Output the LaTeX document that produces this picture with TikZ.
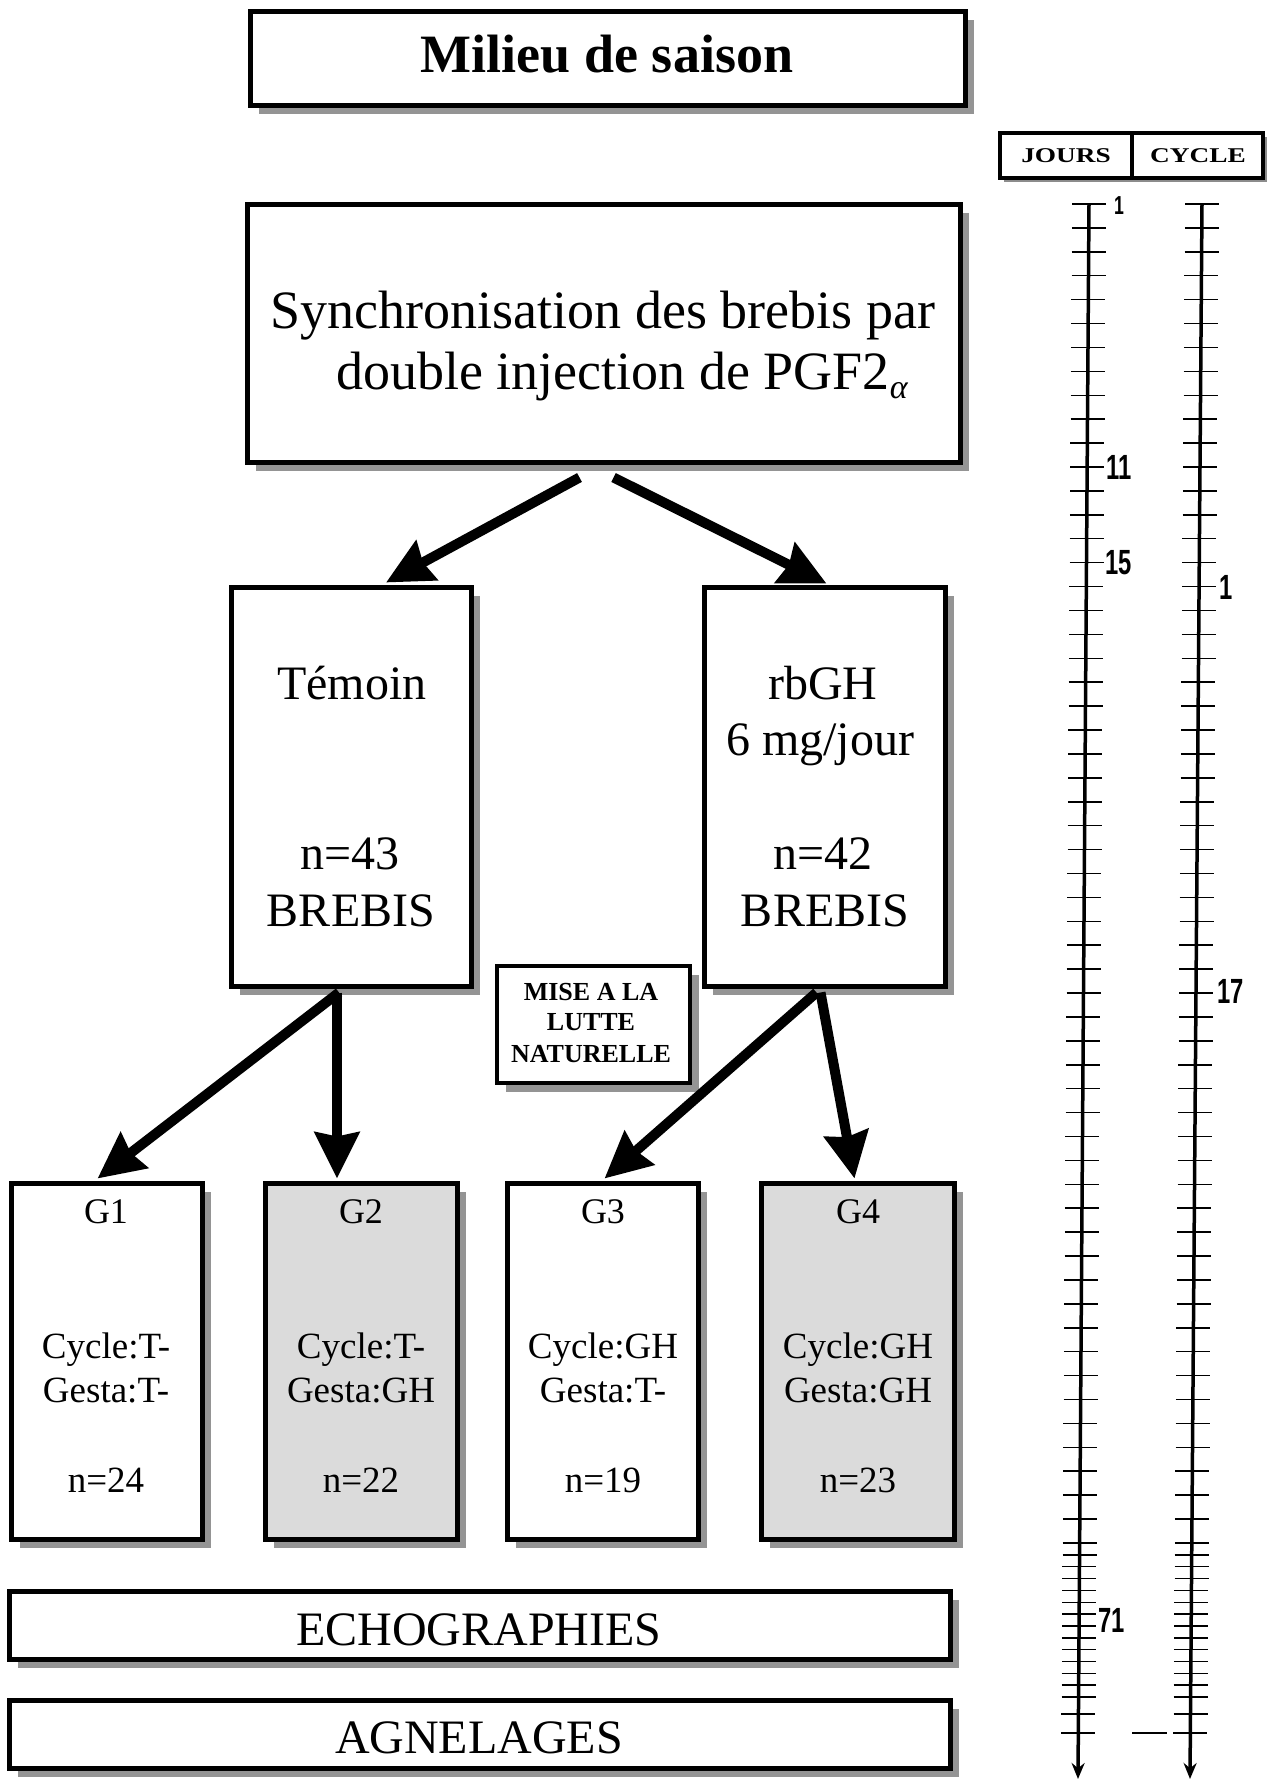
\documentclass[tikz,border=0pt]{standalone}
\usepackage{fontspec}
\usepackage{graphicx}
\setmainfont{Liberation Serif}
\newfontfamily\digitfont{Liberation Sans}
\usetikzlibrary{arrows.meta,calc,fit}
\newcommand\fsz[1]{\fontsize{#1}{#1}\selectfont}
\newcommand\scalenum[1]{\scalebox{0.68}[1]{\digitfont\bfseries\fsz{35}#1}}
\begin{document}
\begin{tikzpicture}[x=1pt,y=-1pt,
  frame/.style={draw=black, line width=5pt, fill=white, inner sep=0pt,
    preaction={fill=black!42, transform canvas={xshift=9pt,yshift=-9pt}}},
  smallframe/.style={draw=black, line width=4pt, fill=white, inner sep=0pt,
    preaction={fill=black!45, transform canvas={xshift=4pt,yshift=-4pt}}},
  greyframe/.style={frame, fill=black!14},
  txt/.style={inner sep=0pt, anchor=base, font=\fsz{48}},
  gtxt/.style={inner sep=0pt, anchor=base, font=\fsz{37}},
  bigarrow/.style={line width=10pt, -{Stealth[length=46pt,width=44pt,inset=4pt]}},
  axisline/.style={line width=3.5pt, -{Stealth[length=16pt,width=13pt]}},
  tickline/.style={line width=1.5pt},
  num/.style={inner sep=0pt, anchor=west}
]
\useasboundingbox (0,0) rectangle (1277,1781);

% ---- boxes ----
\node[frame, fit={(250,11) (965,105)}] (title) {};
\node[smallframe, fit={(1000,133) (1132,178)}] (jours) {};
\node[smallframe, fit={(1132,133) (1263,178)}] (cycle) {};
\node[frame, fit={(247,204) (960,462)}] (synch) {};
\node[frame, fit={(231,587) (471,986)}] (temoin) {};
\node[frame, fit={(704,587) (945,986)}] (rbgh) {};
\node[frame, line width=4pt, fit={(497,966) (690,1083)}] (mise) {};
\node[frame, fit={(11,1183) (202,1539)}] (g1) {};
\node[greyframe, fit={(265,1183) (457,1539)}] (g2) {};
\node[frame, fit={(507,1183) (698,1539)}] (g3) {};
\node[greyframe, fit={(761,1183) (954,1539)}] (g4) {};
\node[frame, fit={(9,1591) (950,1659)}] (echo) {};
\node[frame, fit={(9,1700) (950,1768)}] (agnel) {};

% ---- texts ----
\node[inner sep=0pt, anchor=base] (ttitle) at (607,72) {\fsz{54}\bfseries Milieu de saison};
\node[inner sep=0pt] (tjours) at (1066,156) {\scalebox{1.3}[1]{\bfseries\fsz{21}JOURS}};
\node[inner sep=0pt] (tcycle) at (1198,156) {\scalebox{1.3}[1]{\bfseries\fsz{21}CYCLE}};

\node[txt, font=\fsz{54}] (s1) at (603,328) {Synchronisation des brebis par};
\node[txt, font=\fsz{54}] (s2) at (622,389) {double injection de PGF2\raisebox{-9pt}{\fsz{34}\itshape α}};

\node[txt] (t1) at (352,699) {Témoin};
\node[txt] (t2) at (350,869) {n=43};
\node[txt] (t3) at (351,926) {BREBIS};
\node[txt] (r1) at (823,699) {rbGH};
\node[txt] (r2) at (820,755) {6 mg/jour};
\node[txt] (r3) at (823,869) {n=42};
\node[txt] (r4) at (825,926) {BREBIS};

\node[inner sep=0pt, anchor=base, font=\fsz{26}\bfseries] (m1) at (591,1000) {MISE A LA};
\node[inner sep=0pt, anchor=base, font=\fsz{26}\bfseries] (m2) at (591,1030) {LUTTE};
\node[inner sep=0pt, anchor=base, font=\fsz{26}\bfseries] (m3) at (591,1062) {NATURELLE};

\foreach \n/\x/\g/\c/\e/\k in {a/106/G1/T-/T-/24, b/361/G2/T-/GH/22, c/603/G3/GH/T-/19, d/858/G4/GH/GH/23}{
  \node[gtxt, font=\fsz{36}] (\n-g) at (\x,1223) {\g};
  \node[gtxt] (\n-c) at (\x,1358) {Cycle:\c};
  \node[gtxt] (\n-e) at (\x,1402) {Gesta:\e};
  \node[gtxt] (\n-n) at (\x,1492) {n=\k};
}

\node[txt] (techo) at (479,1645) {ECHOGRAPHIES};
\node[txt] (tagnel) at (479,1753) {AGNELAGES};

% ---- connectors ----
\draw[bigarrow] ($(synch.south)+(-24,13)$) -- ($(temoin.north)+(35,-2)$);
\draw[bigarrow] ($(synch.south)+(10,13)$) -- ($(rbgh.north)+(2,-1)$);
\draw[bigarrow] ($(temoin.south)+(-12,4)$) -- ($(g1.north)+(-9,-2)$);
\draw[bigarrow] ($(temoin.south)+(-14,4)$) -- ($(g2.north)+(-24,-2)$);
\draw[bigarrow] ($(rbgh.south)+(-8,4)$) -- ($(g3.north)+(2,-2)$);
\draw[bigarrow] ($(rbgh.south)+(-4,4)$) -- ($(g4.north)+(-3,-2)$);

% ---- time scales ----
\coordinate (jtop) at (1089,204); \coordinate (jbot) at (1078,1779);
\coordinate (ctop) at (1202,204); \coordinate (cbot) at (1190,1779);
\draw[axisline] (jtop) -- (jbot);
\draw[axisline] (ctop) -- (cbot);
\newcommand\ticks[1]{%
  \draw[tickline] ($(jtop)!{(#1-204)/1575}!(jbot)$) +(-17,0) -- +(17,0);
  \draw[tickline] ($(ctop)!{(#1-204)/1575}!(cbot)$) +(-17,0) -- +(17,0);}
\foreach \i in {0,...,56}{\pgfmathsetmacro\ty{204+23.91*\i}\ticks{\ty}}
\foreach \i in {1,...,13}{\pgfmathsetmacro\ty{1543+11.85*\i}\ticks{\ty}}
\ticks{1714}
\ticks{1733}
\coordinate (dashl) at (1132,1733); \coordinate (dashr) at (1167,1733);
\draw[tickline] (dashl) -- (dashr);

\node[num] (j1) at (1114,206) {\scalebox{0.68}[1]{\digitfont\bfseries\fsz{26}1}};
\node[num] (j11) at (1106,467) {\scalenum{11}};
\node[num] (j15) at (1105,563) {\scalenum{15}};
\node[num] (j71) at (1098,1620) {\scalenum{71}};
\node[num] (c1) at (1219,587) {\scalenum{1}};
\node[num] (c17) at (1217,991) {\scalenum{17}};
\end{tikzpicture}
\end{document}
